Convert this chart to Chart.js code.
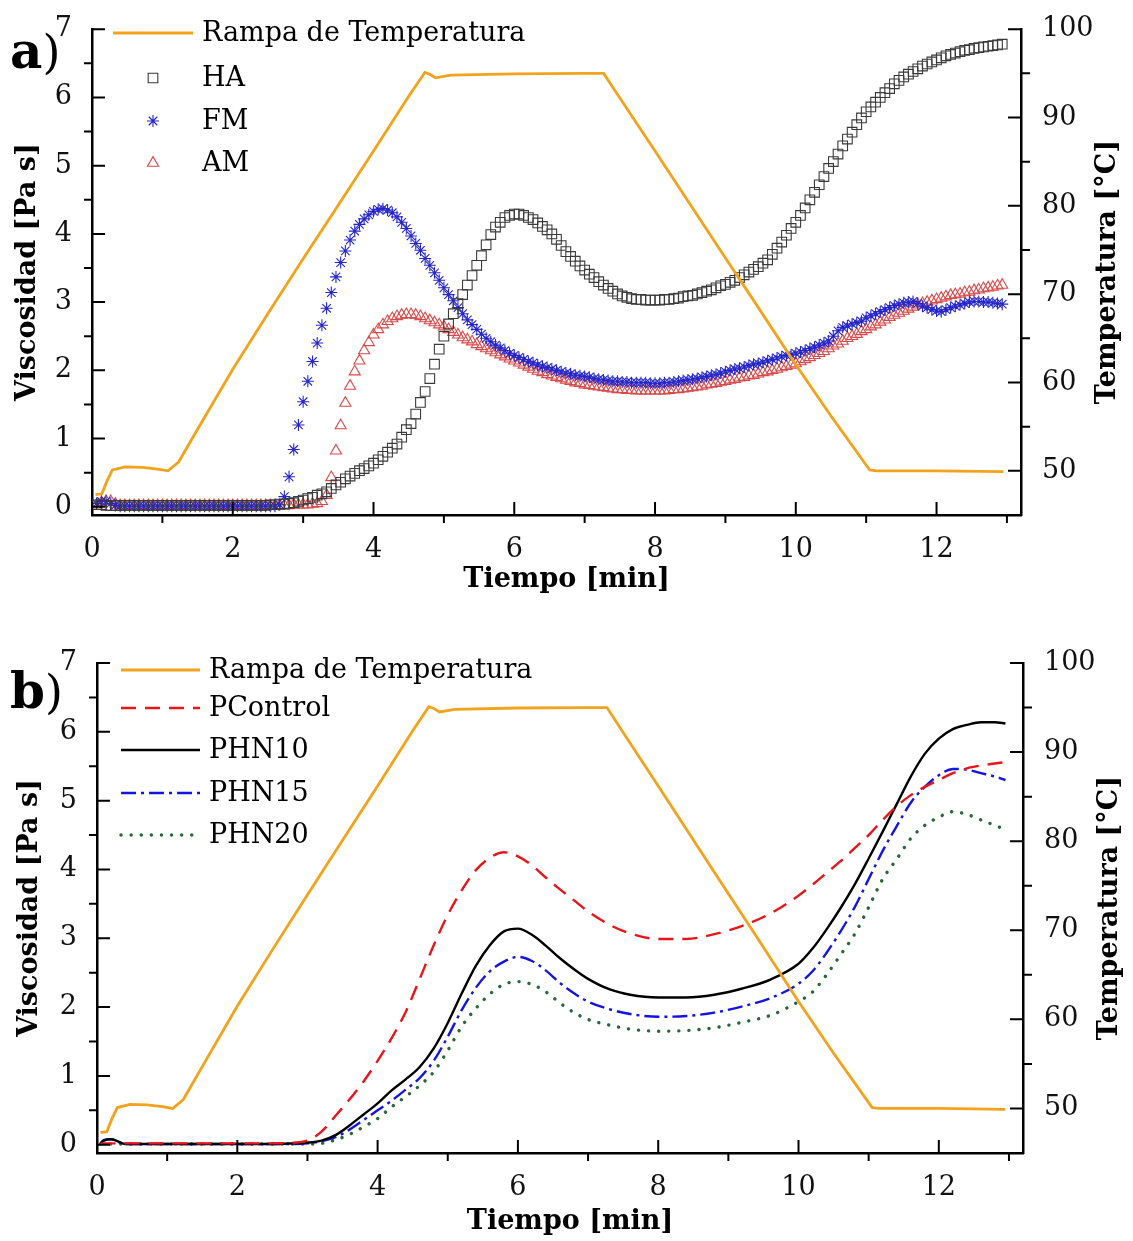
<!DOCTYPE html>
<html>
<head>
<meta charset="utf-8">
<script src="https://cdn.jsdelivr.net/npm/chart.js@4.4.1/dist/chart.umd.min.js"></script>
<style>
  body { margin: 0; background: #fff; }
  canvas { position: absolute; left: 0; }
</style>
</head>
<body>
<canvas id="grafA" width="1133" height="620" style="top:0px"></canvas>
<canvas id="grafB" width="1133" height="621" style="top:620px"></canvas>
<script>
// panel a: una lectura cada 4 s (tiempo en segundos)
const tiempoA = [
  4,8,12,16,20,24,28,32,36,40,44,48,52,56,60,
  64,68,72,76,80,84,88,92,96,100,104,108,112,116,120,
  124,128,132,136,140,144,148,152,156,160,164,168,172,176,180,
  184,188,192,196,200,204,208,212,216,220,224,228,232,236,240,
  244,248,252,256,260,264,268,272,276,280,284,288,292,296,300,
  304,308,312,316,320,324,328,332,336,340,344,348,352,356,360,
  364,368,372,376,380,384,388,392,396,400,404,408,412,416,420,
  424,428,432,436,440,444,448,452,456,460,464,468,472,476,480,
  484,488,492,496,500,504,508,512,516,520,524,528,532,536,540,
  544,548,552,556,560,564,568,572,576,580,584,588,592,596,600,
  604,608,612,616,620,624,628,632,636,640,644,648,652,656,660,
  664,668,672,676,680,684,688,692,696,700,704,708,712,716,720,
  724,728,732,736,740,744,748,752,756,760,764,768,772,776
];

const viscHA = [
  0.03,0.03,0.02,0.02,0.02,0.02,0.02,0.02,0.02,0.02,0.02,0.02,0.02,0.02,0.02,
  0.02,0.02,0.02,0.02,0.02,0.02,0.02,0.02,0.02,0.02,0.02,0.02,0.02,0.02,0.02,
  0.02,0.02,0.02,0.02,0.02,0.02,0.02,0.03,0.03,0.04,0.04,0.05,0.06,0.08,0.10,
  0.12,0.14,0.17,0.19,0.22,0.27,0.32,0.36,0.41,0.45,0.49,0.53,0.56,0.60,0.64,
  0.69,0.74,0.80,0.86,0.92,1.02,1.13,1.22,1.36,1.53,1.69,1.88,2.09,2.31,2.50,
  2.68,2.83,2.98,3.11,3.25,3.39,3.54,3.68,3.84,3.99,4.10,4.17,4.24,4.27,4.29,
  4.29,4.27,4.24,4.21,4.16,4.11,4.06,4.00,3.92,3.83,3.74,3.67,3.60,3.53,3.47,
  3.41,3.36,3.30,3.25,3.20,3.16,3.12,3.09,3.07,3.05,3.04,3.04,3.03,3.03,3.03,
  3.03,3.04,3.04,3.05,3.06,3.08,3.09,3.10,3.12,3.14,3.16,3.18,3.21,3.24,3.26,
  3.29,3.32,3.36,3.40,3.44,3.48,3.52,3.57,3.62,3.70,3.79,3.88,3.98,4.08,4.17,
  4.27,4.38,4.50,4.61,4.72,4.84,4.96,5.06,5.17,5.29,5.39,5.49,5.60,5.70,5.79,
  5.86,5.93,6.00,6.07,6.13,6.20,6.25,6.30,6.34,6.38,6.42,6.46,6.49,6.52,6.55,
  6.58,6.61,6.63,6.65,6.67,6.69,6.70,6.72,6.73,6.74,6.75,6.76,6.77,6.78
];

const viscFM = [
  0.05,0.08,0.08,0.05,0.02,0.01,0.01,0.01,0.01,0.01,0.01,0.01,0.01,0.01,0.01,
  0.01,0.01,0.01,0.01,0.01,0.01,0.01,0.01,0.01,0.01,0.01,0.01,0.01,0.01,0.01,
  0.01,0.01,0.01,0.01,0.01,0.01,0.01,0.01,0.01,0.03,0.15,0.44,0.84,1.20,1.54,
  1.84,2.13,2.40,2.66,2.91,3.14,3.37,3.58,3.75,3.91,4.04,4.14,4.22,4.28,4.33,
  4.36,4.37,4.35,4.31,4.25,4.17,4.08,3.97,3.86,3.76,3.64,3.54,3.43,3.32,3.21,
  3.11,3.02,2.92,2.83,2.74,2.67,2.60,2.53,2.47,2.42,2.37,2.33,2.29,2.25,2.22,
  2.19,2.16,2.13,2.11,2.08,2.06,2.04,2.02,2.00,1.98,1.96,1.95,1.93,1.92,1.91,
  1.90,1.88,1.87,1.86,1.85,1.84,1.84,1.83,1.83,1.82,1.82,1.82,1.82,1.81,1.81,
  1.81,1.82,1.82,1.83,1.84,1.85,1.86,1.87,1.88,1.90,1.91,1.93,1.94,1.96,1.98,
  2.00,2.02,2.03,2.05,2.07,2.09,2.10,2.12,2.14,2.16,2.18,2.20,2.22,2.23,2.25,
  2.27,2.29,2.32,2.34,2.37,2.40,2.43,2.50,2.58,2.63,2.65,2.68,2.70,2.72,2.77,
  2.80,2.83,2.86,2.89,2.92,2.95,2.97,2.99,3.00,3.01,2.98,2.94,2.92,2.89,2.87,
  2.86,2.89,2.92,2.94,2.96,2.98,3.00,3.01,3.01,3.00,3.00,2.99,2.98,2.97
];

const viscAM = [
  0.03,0.06,0.08,0.08,0.04,0.02,0.02,0.02,0.02,0.02,0.02,0.02,0.02,0.02,0.02,
  0.02,0.02,0.02,0.02,0.02,0.02,0.02,0.02,0.02,0.02,0.02,0.02,0.02,0.02,0.02,
  0.02,0.02,0.02,0.02,0.02,0.02,0.02,0.02,0.02,0.02,0.02,0.02,0.03,0.03,0.03,
  0.03,0.04,0.05,0.08,0.17,0.43,0.82,1.19,1.52,1.77,1.98,2.14,2.29,2.41,2.52,
  2.60,2.67,2.72,2.76,2.79,2.81,2.82,2.82,2.81,2.79,2.76,2.73,2.70,2.67,2.64,
  2.60,2.56,2.52,2.48,2.45,2.42,2.38,2.35,2.32,2.29,2.26,2.23,2.20,2.17,2.14,
  2.11,2.08,2.05,2.02,1.99,1.97,1.94,1.92,1.90,1.88,1.86,1.84,1.82,1.81,1.79,
  1.78,1.77,1.76,1.75,1.74,1.73,1.72,1.72,1.71,1.71,1.70,1.70,1.70,1.70,1.70,
  1.70,1.70,1.71,1.72,1.72,1.73,1.74,1.75,1.76,1.77,1.79,1.80,1.81,1.83,1.84,
  1.86,1.87,1.89,1.90,1.92,1.93,1.95,1.97,1.98,2.00,2.02,2.04,2.06,2.08,2.10,
  2.13,2.16,2.19,2.22,2.25,2.28,2.32,2.36,2.39,2.43,2.47,2.50,2.53,2.57,2.60,
  2.64,2.67,2.71,2.74,2.78,2.81,2.84,2.87,2.90,2.93,2.96,2.98,3.00,3.02,3.04,
  3.06,3.08,3.10,3.11,3.12,3.14,3.15,3.17,3.18,3.20,3.21,3.22,3.24,3.25
];

// rampa de temperatura (igual en los dos paneles), tiempo en min
const tiempoRampa = [0.05,0.14,0.21,0.29,0.47,0.72,0.93,1.08,1.23,1.5,2.0,2.5,3.0,3.5,4.0,4.5,4.73,4.8,4.88,5.1,6.0,7.0,7.27,7.5,8.0,9.0,9.4,10.0,10.5,11.05,11.15,12.0,12.95];
const tempRampa = [47.3,47.4,48.8,50.1,50.45,50.4,50.2,50.0,51.0,54.7,61.5,67.8,74.0,80.1,86.2,92.4,95.1,94.9,94.5,94.8,94.95,95.0,95.0,92.2,86.2,74.1,69.3,62.0,56.2,50.1,50.0,50.0,49.9];

// panel b, tiempo en min
const tiempoB = [0.05,0.1,0.2,0.3,0.4,0.6,1.0,1.5,2.0,2.5,2.8,3.0,3.2,3.4,3.6,3.8,4.0,4.2,4.4,4.6,4.8,5.0,5.2,5.4,5.6,5.8,6.0,6.2,6.4,6.6,6.8,7.0,7.3,7.6,8.0,8.4,8.8,9.2,9.6,10.0,10.2,10.4,10.6,10.8,11.0,11.2,11.4,11.6,11.8,12.0,12.2,12.4,12.6,12.8,12.95];
const viscPControl = [0.02,0.02,0.02,0.02,0.02,0.02,0.02,0.02,0.02,0.02,0.03,0.06,0.19,0.42,0.66,0.92,1.22,1.55,1.93,2.41,2.90,3.34,3.70,3.99,4.17,4.25,4.19,4.06,3.88,3.71,3.55,3.39,3.20,3.07,2.99,2.99,3.06,3.18,3.36,3.62,3.78,3.95,4.12,4.31,4.50,4.72,4.92,5.08,5.20,5.30,5.40,5.47,5.51,5.54,5.56];
const viscPHN10 = [0.02,0.06,0.08,0.05,0.01,0.01,0.01,0.01,0.01,0.01,0.02,0.03,0.06,0.14,0.28,0.44,0.60,0.79,0.95,1.13,1.40,1.77,2.20,2.60,2.90,3.10,3.14,3.05,2.89,2.71,2.55,2.41,2.26,2.18,2.14,2.14,2.18,2.27,2.40,2.63,2.85,3.13,3.44,3.78,4.16,4.55,4.95,5.35,5.68,5.90,6.04,6.10,6.14,6.14,6.12];
const viscPHN15 = [0.02,0.07,0.08,0.04,0.01,0.01,0.01,0.01,0.01,0.01,0.01,0.02,0.05,0.11,0.22,0.36,0.50,0.64,0.80,0.97,1.22,1.57,1.96,2.28,2.52,2.66,2.73,2.67,2.53,2.35,2.20,2.08,1.97,1.90,1.86,1.87,1.92,2.01,2.13,2.34,2.52,2.79,3.10,3.45,3.86,4.27,4.63,4.97,5.20,5.37,5.46,5.45,5.40,5.35,5.30];
const viscPHN20 = [0.01,0.01,0.01,0.01,0.01,0.01,0.01,0.01,0.01,0.01,0.01,0.01,0.02,0.07,0.15,0.26,0.38,0.55,0.70,0.86,1.06,1.37,1.72,1.98,2.19,2.33,2.37,2.33,2.22,2.06,1.92,1.82,1.74,1.68,1.65,1.66,1.70,1.78,1.88,2.08,2.22,2.47,2.76,3.06,3.45,3.86,4.15,4.45,4.64,4.76,4.84,4.80,4.72,4.64,4.58];

// marcas de los ejes
const xMayores = [0,2,4,6,8,10,12];
const xMenores = [1,3,5,7,9,11,13];
const viscMayores = [0,1,2,3,4,5,6,7];
const viscMenores = [0.5,1.5,2.5,3.5,4.5,5.5,6.5];
const tempMayores = [50,60,70,80,90,100];
const tempMenores = [55,65,75,85,95];

const FUENTE = 'DejaVu Serif';
const NARANJA = '#f2a31c';

function puntos(xs, ys, factor) {
  const out = [];
  const n = Math.min(xs.length, ys.length);
  for (let i = 0; i < n; i++) {
    out.push({ x: xs[i] / factor, y: ys[i] });
  }
  return out;
}

function rampa() {
  return {
    label: 'Rampa de Temperatura',
    data: puntos(tiempoRampa, tempRampa, 1),
    yAxisID: 'temp',
    borderColor: NARANJA,
    borderWidth: 2.8,
    pointRadius: 0,
    tension: 0
  };
}

function simbolos(label, valores, estilo, color, radio) {
  return {
    label: label,
    data: puntos(tiempoA, valores, 60),
    yAxisID: 'visc',
    showLine: false,
    pointStyle: estilo,
    pointRadius: radio,
    pointBorderWidth: 1.1,
    pointBorderColor: color,
    pointBackgroundColor: 'rgba(0,0,0,0)',
    borderColor: color
  };
}

function curva(label, valores, color, guiones, extremo, grosor) {
  return {
    label: label,
    data: puntos(tiempoB, valores, 1),
    yAxisID: 'visc',
    borderColor: color,
    borderWidth: grosor || 2.4,
    borderDash: guiones,
    borderCapStyle: extremo || 'butt',
    pointRadius: 0,
    cubicInterpolationMode: 'monotone'
  };
}

// ticks, titulos, letra del panel y leyenda
const decoracion = {
  id: 'decoracion',
  afterDraw(chart, args, opts) {
    const ctx = chart.ctx;
    const area = chart.chartArea;
    const sx = chart.scales.x, sv = chart.scales.visc, st = chart.scales.temp;

    ctx.save();
    ctx.strokeStyle = '#000';
    ctx.lineWidth = 2;
    ctx.beginPath();
    // mayores hacia dentro, menores hacia fuera
    xMayores.forEach(v => { const p = sx.getPixelForValue(v); ctx.moveTo(p, area.bottom); ctx.lineTo(p, area.bottom - 13); });
    xMenores.forEach(v => { const p = sx.getPixelForValue(v); ctx.moveTo(p, area.bottom); ctx.lineTo(p, area.bottom + 8); });
    viscMayores.forEach(v => { const p = sv.getPixelForValue(v); ctx.moveTo(area.left, p); ctx.lineTo(area.left + 13, p); });
    viscMenores.forEach(v => { const p = sv.getPixelForValue(v); ctx.moveTo(area.left, p); ctx.lineTo(area.left - 8, p); });
    tempMayores.forEach(v => { const p = st.getPixelForValue(v); ctx.moveTo(area.right, p); ctx.lineTo(area.right - 13, p); });
    tempMenores.forEach(v => { const p = st.getPixelForValue(v); ctx.moveTo(area.right, p); ctx.lineTo(area.right + 9, p); });
    ctx.stroke();

    ctx.fillStyle = '#000';
    ctx.font = 'bold 27px "' + FUENTE + '"';
    ctx.textAlign = 'center';
    ctx.textBaseline = 'middle';
    ctx.fillText('Tiempo [min]', (area.left + area.right) / 2 + 10, area.bottom + opts.tituloX);

    const medio = (area.top + area.bottom) / 2;
    ctx.save();
    ctx.translate(opts.tituloIzq, medio);
    ctx.rotate(-Math.PI / 2);
    ctx.fillText('Viscosidad [Pa s]', 0, 0);
    ctx.restore();
    ctx.save();
    ctx.translate(opts.tituloDer, medio);
    ctx.rotate(-Math.PI / 2);
    ctx.fillText('Temperatura [°C]', 0, 0);
    ctx.restore();

    // letra del panel
    ctx.textAlign = 'left';
    ctx.textBaseline = 'alphabetic';
    ctx.font = 'bold 50px "' + FUENTE + '"';
    ctx.fillText(opts.letra, 10, opts.letraY);
    const w = ctx.measureText(opts.letra).width;
    ctx.font = '46px "' + FUENTE + '"';
    ctx.fillText(')', 10 + w, opts.letraY);

    // leyenda
    const ley = opts.leyenda;
    ctx.font = '27px "' + FUENTE + '"';
    ctx.textBaseline = 'middle';
    chart.data.datasets.forEach((ds, i) => {
      const y = ley.filas[i];
      if (ds.showLine === false) {
        ctx.strokeStyle = ds.pointBorderColor;
        ctx.fillStyle = 'rgba(0,0,0,0)';
        ctx.lineWidth = 1.1;
        Chart.helpers.drawPoint(ctx, { pointStyle: ds.pointStyle, radius: ds.pointRadius, rotation: 0, borderWidth: 1.1 }, (ley.x0 + ley.x1) / 2, y);
      } else {
        ctx.strokeStyle = ds.borderColor;
        ctx.lineWidth = ds.borderWidth;
        ctx.lineCap = ds.borderCapStyle || 'butt';
        ctx.setLineDash(ds.borderDash || []);
        ctx.beginPath();
        ctx.moveTo(ley.x0, y);
        ctx.lineTo(ley.x1, y);
        ctx.stroke();
        ctx.setLineDash([]);
        ctx.lineCap = 'butt';
      }
      ctx.fillStyle = '#000';
      ctx.fillText(ds.label, ley.texto, y + 1);
    });
    ctx.restore();
  }
};

function crearPanel(id, datasets, marco, deco) {
  const canvas = document.getElementById(id);
  const fuenteTicks = { family: FUENTE, size: 27 };
  return new Chart(canvas, {
    type: 'line',
    data: { datasets: datasets },
    options: {
      responsive: false,
      animation: false,
      devicePixelRatio: 1,
      layout: { padding: { top: marco.top, left: 0, right: 0, bottom: 0 } },
      plugins: { legend: { display: false }, tooltip: { enabled: false }, decoracion: deco },
      scales: {
        x: {
          type: 'linear', min: 0, max: 13.2,
          afterFit: s => { s.height = canvas.height - marco.bottom; },
          afterBuildTicks: s => { s.ticks = xMayores.map(v => ({ value: v })); },
          grid: { display: false },
          border: { color: '#000', width: 2.5 },
          ticks: { font: fuenteTicks, color: '#111', padding: 11, maxRotation: 0 }
        },
        visc: {
          type: 'linear', position: 'left', min: -0.12, max: 7,
          afterFit: s => { s.width = marco.left; },
          afterBuildTicks: s => { s.ticks = viscMayores.map(v => ({ value: v })); },
          grid: { display: false },
          border: { color: '#000', width: 2.5 },
          ticks: { font: fuenteTicks, color: '#111', padding: 12 }
        },
        temp: {
          type: 'linear', position: 'right', min: 45, max: 100,
          afterFit: s => { s.width = canvas.width - marco.right; },
          afterBuildTicks: s => { s.ticks = tempMayores.map(v => ({ value: v })); },
          grid: { display: false },
          border: { color: '#000', width: 2.5 },
          ticks: { font: fuenteTicks, color: '#111', padding: 13 }
        }
      }
    },
    plugins: [decoracion]
  });
}

crearPanel('grafA', [
  rampa(),
  simbolos('HA', viscHA, 'rect', '#3a3a3a', 6.8),
  simbolos('FM', viscFM, 'star', '#2626c9', 6),
  simbolos('AM', viscAM, 'triangle', '#d84a4a', 6.4)
], { left: 92, right: 1021, top: 25, bottom: 515 }, {
  letra: 'a', letraY: 68, tituloX: 65, tituloIzq: 28, tituloDer: 1108,
  leyenda: { x0: 113, x1: 193, texto: 202, filas: [33, 78, 121, 163] }
});

crearPanel('grafB', [
  rampa(),
  curva('PControl', viscPControl, '#e8141c', [15, 9]),
  curva('PHN10', viscPHN10, '#000000', []),
  curva('PHN15', viscPHN15, '#1414e0', [15, 5, 3, 5]),
  curva('PHN20', viscPHN20, '#26683a', [0.1, 10], 'round', 3.4)
], { left: 97, right: 1023, top: 43, bottom: 533 }, {
  letra: 'b', letraY: 88, tituloX: 69, tituloIzq: 30, tituloDer: 1110,
  leyenda: { x0: 121, x1: 200, texto: 209, filas: [50, 88, 130, 173, 215] }
});
</script>
</body>
</html>
